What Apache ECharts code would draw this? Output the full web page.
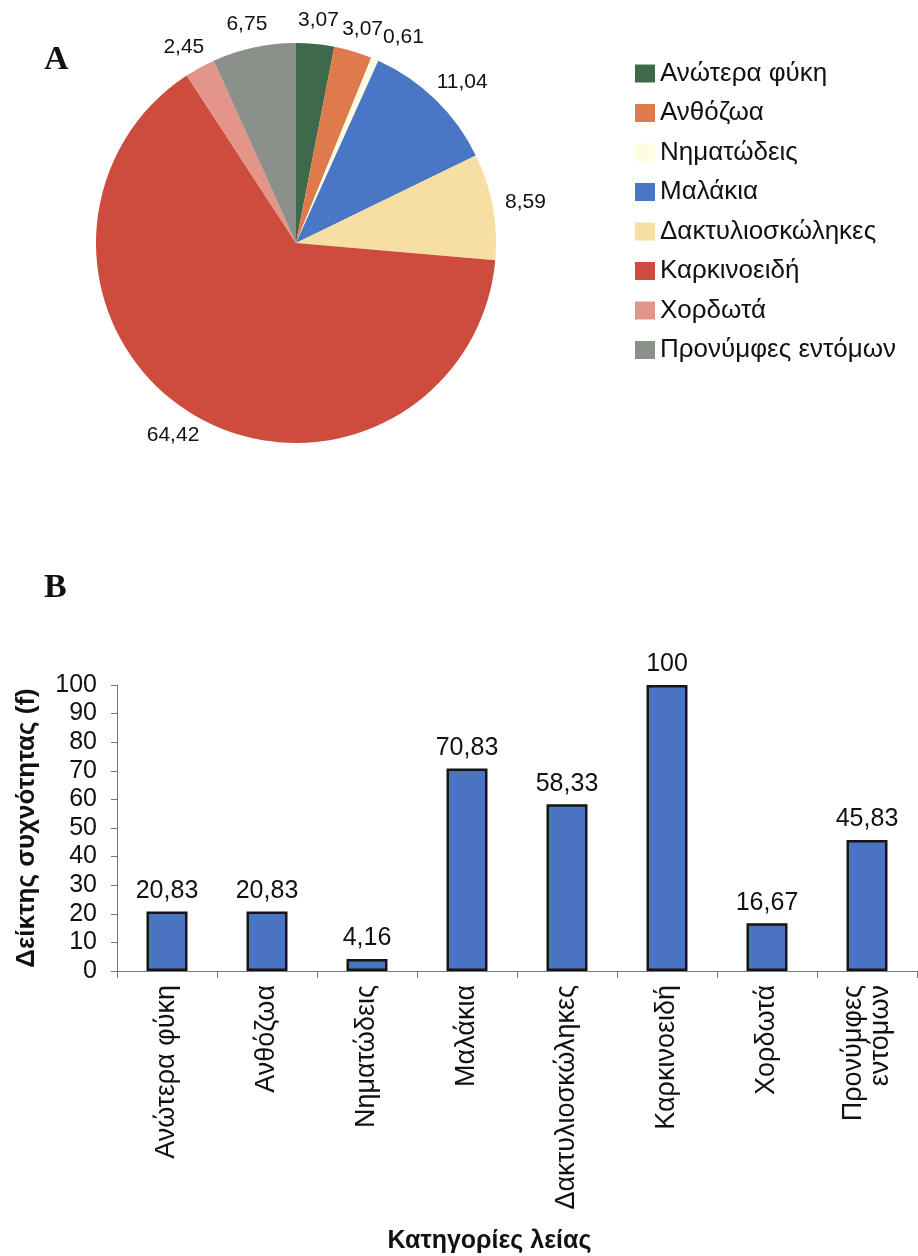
<!DOCTYPE html>
<html>
<head>
<meta charset="utf-8">
<script src="https://cdn.jsdelivr.net/npm/echarts@6/dist/echarts.min.js"></script>
<style>
html,body{margin:0;padding:0;background:#ffffff;}
#chart{width:918px;height:1256px;}
</style>
</head>
<body>
<div id="chart"></div>
<script>
// ---- data ----
const categories = ['Ανώτερα φύκη', 'Ανθόζωα', 'Νηματώδεις', 'Μαλάκια', 'Δακτυλιοσκώληκες', 'Καρκινοειδή', 'Χορδωτά', 'Προνύμφες εντόμων'];
const pieValues = [3.07, 3.07, 0.61, 11.04, 8.59, 64.42, 2.45, 6.75];
const barValues = [20.83, 20.83, 4.16, 70.83, 58.33, 100, 16.67, 45.83];
const sliceColors = ['#3e6a4b', '#df7a4c', '#fdfde2', '#4a76c6', '#f7dfa4', '#cd4c3e', '#e3958a', '#8b908a'];
const yAxisMin = 0;
const yAxisMax = 100;
const yAxisInterval = 10;
const panelTitles = ['A', 'B'];
const yAxisTitle = 'Δείκτης συχνότητας (f)';
const xAxisTitle = 'Κατηγορίες λείας';

const fmt = v => String(v).replace('.', ',');
const SANS = "'Liberation Sans', Arial, Helvetica, sans-serif";

const chart = echarts.init(document.getElementById('chart'), null, {renderer: 'canvas'});

const option = {
  animation: false,
  backgroundColor: '#ffffff',
  title: [
    {text: panelTitles[0], left: 39, top: 38,
     textStyle: {fontFamily: "'Liberation Serif', 'Times New Roman', serif", fontWeight: 'bold', fontSize: 34, color: '#111'}},
    {text: panelTitles[1], left: 39, top: 566,
     textStyle: {fontFamily: "'Liberation Serif', 'Times New Roman', serif", fontWeight: 'bold', fontSize: 34, color: '#111'}}
  ],
  legend: {
    orient: 'vertical',
    left: 630,
    top: 55,
    itemWidth: 20,
    itemHeight: 18,
    itemGap: 12.5,
    icon: 'rect',
    selectedMode: false,
    data: categories,
    textStyle: {fontFamily: SANS, fontSize: 26, color: '#111', lineHeight: 27}
  },
  grid: {left: 117, right: 1, top: 685, bottom: 285, containLabel: false, outerBoundsMode: 'none'},
  xAxis: {
    type: 'category',
    data: categories,
    boundaryGap: true,
    axisLine: {show: true, lineStyle: {color: '#777', width: 1}},
    axisTick: {show: true, length: 7, lineStyle: {color: '#777'}},
    axisLabel: {
      rotate: 90,
      margin: 14,
      interval: 0,
      fontFamily: SANS,
      fontSize: 27,
      lineHeight: 27,
      color: '#111',
      formatter: v => (v === categories[7] ? v.replace(' ', '\n') : v)
    },
    name: xAxisTitle,
    nameLocation: 'middle',
    nameGap: 258,
    nameTextStyle: {
      fontFamily: "'Liberation Sans Narrow', 'Arial Narrow', 'Liberation Sans', sans-serif",
      fontWeight: 'bold', fontSize: 25, color: '#111', padding: [0, 55, 0, 0]
    }
  },
  yAxis: {
    type: 'value',
    min: yAxisMin,
    max: yAxisMax,
    interval: yAxisInterval,
    splitLine: {show: false},
    axisLine: {show: true, lineStyle: {color: '#777', width: 1}},
    axisTick: {show: true, length: 6, lineStyle: {color: '#777'}},
    axisLabel: {fontFamily: SANS, fontSize: 25, color: '#111', margin: 20},
    name: yAxisTitle,
    nameLocation: 'middle',
    nameGap: 77,
    nameTextStyle: {fontFamily: SANS, fontWeight: 'bold', fontSize: 26, color: '#111'}
  },
  series: [
    {
      type: 'pie',
      center: [296, 243],
      radius: 200,
      startAngle: 90,
      clockwise: true,
      avoidLabelOverlap: false,
      silent: true,
      itemStyle: {borderWidth: 0},
      label: {
        show: true,
        position: 'outside',
        fontFamily: SANS,
        fontSize: 21,
        color: '#111',
        formatter: p => fmt(p.value)
      },
      labelLine: {show: true, length: 13, length2: 0, lineStyle: {opacity: 0, width: 0}},
      labelLayout: function (p) {
        const pts = p.labelLinePoints;
        if (!pts || !pts[1]) return {};
        const dx = pts[1][0] - pts[0][0];
        const dy = pts[1][1] - pts[0][1];
        const len = Math.sqrt(dx * dx + dy * dy) || 1;
        const ux = dx / len, uy = dy / len;
        const w = p.labelRect.width, h = p.labelRect.height;
        const res = {
          x: pts[1][0] + ux * w / 2,
          y: pts[1][1] + uy * h / 2,
          align: 'center',
          verticalAlign: 'middle'
        };
        if (uy < -0.8 && ux > 0) res.moveOverlap = 'shiftX';
        return res;
      },
      data: categories.map((c, i) => ({name: c, value: pieValues[i], itemStyle: {color: sliceColors[i]}}))
    },
    {
      type: 'bar',
      data: barValues,
      barWidth: 41,
      silent: true,
      itemStyle: {color: '#4a74c2', borderColor: '#151515', borderWidth: 2.5},
      label: {
        show: true,
        position: 'top',
        distance: 8,
        fontFamily: SANS,
        fontSize: 25,
        color: '#111',
        formatter: p => fmt(p.value)
      }
    }
  ]
};

chart.setOption(option);
</script>
</body>
</html>
